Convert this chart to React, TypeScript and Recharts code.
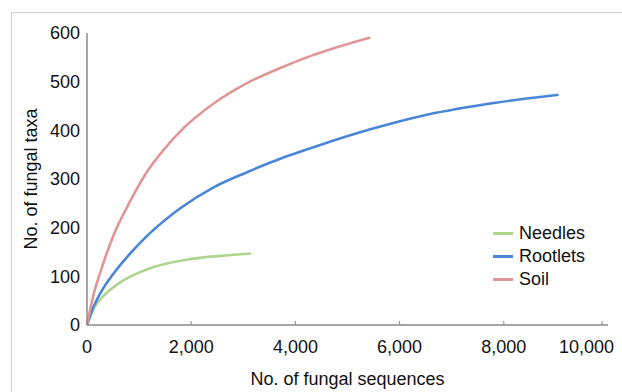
import { Line, LineChart, XAxis, YAxis } from "recharts";

const needlesSeq = [0, 150, 300, 600, 1250, 1900, 2550, 3150];
const needlesTaxa = [0, 38, 58, 85, 118, 134, 142, 147];

const rootletsSeq = [0, 127, 255, 511, 831, 1152, 1791, 2430, 3071, 3519, 4478, 5438, 6398, 7677, 9052];
const rootletsTaxa = [0, 38, 65, 106, 147, 183, 240, 283, 314, 334, 370, 402, 429, 454, 473];

const soilSeq = [0, 127, 255, 511, 831, 1152, 1470, 1791, 2430, 3071, 3710, 4349, 5438];
const soilTaxa = [0, 63, 108, 185, 255, 315, 360, 398, 455, 497, 528, 555, 591];

const xTicks = [0, 2000, 4000, 6000, 8000, 10000];
const yTicks = [0, 100, 200, 300, 400, 500, 600];

const series = [
  { name: "Needles", color: "#aed48e", seq: needlesSeq, taxa: needlesTaxa },
  { name: "Rootlets", color: "#4a86d8", seq: rootletsSeq, taxa: rootletsTaxa },
  { name: "Soil", color: "#e09696", seq: soilSeq, taxa: soilTaxa },
];

const toRows = (seq: number[], taxa: number[]) => seq.map((s, i) => ({ seq: s, taxa: taxa[i] }));

const FONT = "'Liberation Sans', Arial, sans-serif";
const AXIS = "#8a8a8a";

const XTick = (props: any) => {
  const { x, y, payload } = props;
  const last = payload.value === xTicks[xTicks.length - 1];
  return (
    <g>
      <line x1={x} x2={x} y1={y - 15} y2={y - 19} stroke={AXIS} strokeWidth={1} />
      <text
        x={last ? x + 12 : x}
        y={y}
        dy="0.71em"
        textAnchor={last ? "end" : "middle"}
        fill="#111"
        fontSize={18}
        fontFamily={FONT}
      >
        {Number(payload.value).toLocaleString("en-US")}
      </text>
    </g>
  );
};

export default function App() {
  return (
    <div style={{ position: "fixed", left: 0, top: 0, width: 622, height: 392, overflow: "hidden", background: "#fff" }}>
      <div style={{ position: "absolute", left: 11, top: 12, width: 660, height: 440, border: "1px solid #d2d2d2" }} />
      <div style={{ position: "absolute", left: 0, top: 0 }}>
        <LineChart width={622} height={392} margin={{ top: 33, right: 14, left: 0, bottom: 0 }}>
          <XAxis
            dataKey="seq"
            type="number"
            domain={[0, 10000]}
            ticks={xTicks}
            tick={<XTick />}
            tickLine={false}
            tickSize={0}
            tickMargin={15}
            height={67}
            axisLine={{ stroke: AXIS, strokeWidth: 1.5 }}
            allowDuplicatedCategory={false}
            label={{ value: "No. of fungal sequences", position: "insideBottom", offset: 7, fill: "#111", fontSize: 18, fontFamily: FONT }}
          />
          <YAxis
            dataKey="taxa"
            type="number"
            domain={[0, 600]}
            ticks={yTicks}
            width={87}
            tickLine={false}
            tickSize={0}
            tickMargin={7}
            axisLine={{ stroke: AXIS, strokeWidth: 1.5 }}
            tick={{ fill: "#111", fontSize: 18, fontFamily: FONT }}
            label={{
              value: "No. of fungal taxa",
              angle: -90,
              position: "insideLeft",
              offset: 31,
              fill: "#111",
              fontSize: 18,
              fontFamily: FONT,
              style: { textAnchor: "middle" },
            }}
          />
          {series.map((s) => (
            <Line
              key={s.name}
              data={toRows(s.seq, s.taxa)}
              dataKey="taxa"
              name={s.name}
              type="monotone"
              stroke={s.color}
              strokeWidth={2.6}
              dot={false}
              activeDot={false}
              isAnimationActive={false}
            />
          ))}
        </LineChart>
      </div>
      <div style={{ position: "absolute", left: 493, top: 222, fontFamily: FONT, fontSize: 18, color: "#111" }}>
        {series.map((s) => (
          <div key={s.name} style={{ display: "flex", alignItems: "center", height: 23 }}>
            <span style={{ width: 20, height: 3, background: s.color, marginRight: 6 }} />
            <span>{s.name}</span>
          </div>
        ))}
      </div>
    </div>
  );
}
